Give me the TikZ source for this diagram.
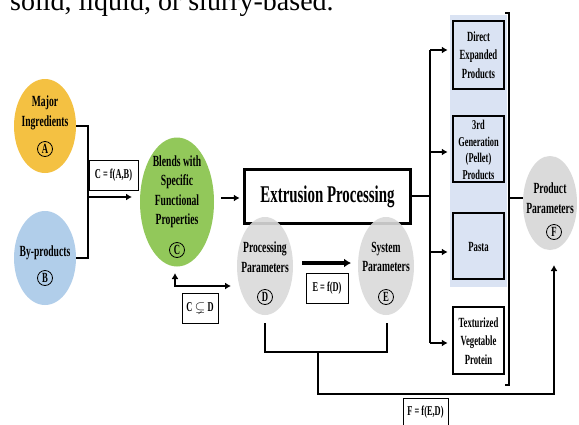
\documentclass[tikz,border=0pt]{standalone}
\usepackage{amssymb}
\usepackage{fontspec}
\setmainfont[FakeStretch=0.62]{Liberation Serif}
\newfontfamily\capfont{Liberation Serif}
\usetikzlibrary{shapes.geometric,arrows.meta}
\definecolor{yA}{RGB}{244,193,66}
\definecolor{bB}{RGB}{177,206,234}
\definecolor{gC}{RGB}{146,200,90}
\definecolor{gr}{RGB}{218,218,218}
\definecolor{panel}{RGB}{218,227,243}
\begin{document}
\begin{tikzpicture}[x=1pt,y=-1pt,
  blob/.style={ellipse, draw=none, inner sep=0pt},
  lbl/.style={font=\bfseries\fontsize{15.5}{19.5}\selectfont, align=center, inner sep=0pt},
  plbl/.style={font=\bfseries\fontsize{14}{18.5}\selectfont, align=center, inner sep=0pt},
  circ/.style={circle, draw, line width=0.8pt, inner sep=0pt, minimum size=15pt, font=\bfseries\fontsize{14}{14}\selectfont},
  fbox/.style={draw, line width=0.8pt, inner sep=0pt, font=\bfseries\fontsize{13.5}{13.5}\selectfont},
  prod/.style={draw, line width=2.5pt, minimum width=51pt, inner sep=0pt},
  conn/.style={line width=2.2pt},
  arr/.style={conn, -{Latex[length=6pt,width=7pt]}},
  dbl/.style={conn, {Latex[length=6pt,width=7pt]}-{Latex[length=6pt,width=7pt]}}
]
\useasboundingbox (0,0) rectangle (579,424);
\fill[white] (0,0) rectangle (579,424);
% cut caption
\node[anchor=base west, inner sep=0pt, font=\capfont\fontsize{28}{28}\selectfont] (cap) at (10,10) {solid, liquid, or slurry-based.};

% ellipses A, B, C
\node[blob, fill=yA, minimum width=62pt, minimum height=94pt] (A) at (45,126) {};
\node[lbl] (At) at (45,113) {Major\\Ingredients};
\node[circ] (Ac) at (45,149) {A};
\node[blob, fill=bB, minimum width=62pt, minimum height=94pt] (B) at (45,258) {};
\node[lbl] (Bt) at (45,253) {By-products};
\node[circ] (Bc) at (45,278) {B};
\node[blob, fill=gC, minimum width=74pt, minimum height=129pt] (C) at (177,202) {};
\node[lbl] (Ct) at (177,192) {Blends with\\Specific\\Functional\\Properties};
\node[circ] (Cc) at (177,250) {C};

% bracket A,B -> C
\coordinate (abj) at (88,197);
\coordinate (abtip) at (132,197);
\draw[conn] (A.east) -- (88,126) -- (88,258) -- (B.east);
\draw[arr] (abj) -- (abtip);
\node[fbox, minimum width=49pt, minimum height=30pt] (fab) at (113.5,175) {C = f(A,B)};

% extrusion box
\node[draw, line width=3.5pt, minimum width=166pt, minimum height=54pt, inner sep=0pt,
      font=\bfseries\fontsize{24}{24}\selectfont] (EX) at (327.5,196.5) {Extrusion Processing};
\coordinate (cex) at (221,198);
\draw[arr] (cex) -- ([xshift=-3pt]EX.west |- cex);

% D, E ellipses
\node[blob, fill=gr, fill opacity=0.9, minimum width=56pt, minimum height=98pt] (D) at (265,266) {};
\node[lbl] (Dt) at (265,257) {Processing\\Parameters};
\node[circ] (Dc) at (265,297) {D};
\node[blob, fill=gr, fill opacity=0.9, minimum width=56pt, minimum height=98pt] (E) at (386,266) {};
\node[lbl] (Et) at (386,257) {System\\Parameters};
\node[circ] (Ec) at (386,297) {E};

% C <-> D
\coordinate (cup) at (175,273);
\coordinate (dtip) at (231,286);
\draw[dbl] (cup) |- (dtip);
\node[fbox, minimum width=36pt, minimum height=30pt] (cd) at (200,308) {C\,$\subsetneq$\,D};

% D -> E
\coordinate (de1) at (302,263);
\coordinate (de2) at (351,263);
\draw[line width=3.5pt, -{Latex[length=7pt,width=9pt]}] (de1) -- (de2);
\node[fbox, minimum width=42pt, minimum height=30pt] (ed) at (327,288) {E = f(D)};

% bracket D,E -> F
\coordinate (db) at (265,323);
\coordinate (eb) at (387,323);
\coordinate (mj) at (318,352);
\coordinate (fup) at (554,265);
\draw[conn] (db) -- (265,352) -- (387,352) -- (eb);
\draw[arr] (mj) -- (318,394) -| (fup);
\node[fbox, minimum width=45pt, minimum height=28pt] (fed) at (425.5,412) {F = f(E,D)};

% product panel
\fill[panel] (450,15) rectangle (507,287);
\node[prod, fill=panel, minimum height=68pt] (P1) at (478.5,55) {};
\node[plbl] (P1t) at (478.5,55) {Direct\\Expanded\\Products};
\node[prod, fill=panel, minimum height=66pt] (P2) at (478.5,149) {};
\node[plbl, font=\bfseries\fontsize{13.5}{16.5}\selectfont] (P2t) at (478.5,150) {3rd\\Generation\\(Pellet)\\Products};
\node[prod, fill=panel, minimum height=66pt] (P3) at (478.5,246) {};
\node[plbl] (P3t) at (478.5,247) {Pasta};
\node[prod, fill=white, minimum height=67pt] (P4) at (478.5,340.5) {};
\node[plbl] (P4t) at (478.5,341) {Texturized\\Vegetable\\Protein};

% distribution
\coordinate (vt) at (430,50);
\coordinate (vb) at (430,343);
\draw[conn] (EX.east |- 0,196) -- (430,196);
\draw[conn] (vt) -- (vb);
\draw[arr] (vt) -- ([xshift=-4pt]P1.west |- vt);
\draw[arr] (430,152) -- ([xshift=-4pt]P2.west |- 0,152);
\draw[arr] (430,252) -- ([xshift=-4pt]P3.west |- 0,252);
\draw[arr] (vb) -- ([xshift=-4pt]P4.west |- vb);

% right bracket
\draw[line width=2pt] (505,13) -- (509,13) -- (509,385) -- (505,385);

% F ellipse
\node[blob, fill=gr, minimum width=54pt, minimum height=94pt] (F) at (550,203) {};
\node[lbl] (Ft) at (550,198) {Product\\Parameters};
\node[circ] (Fc) at (554,232) {F};
\coordinate (bj) at (509,198);
\draw[line width=2pt] (bj) -- (F.west |- bj);
\end{tikzpicture}
\end{document}
